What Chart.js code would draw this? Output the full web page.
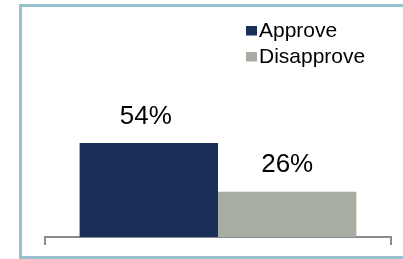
<!DOCTYPE html>
<html>
<head>
<meta charset="utf-8">
<script src="https://cdn.jsdelivr.net/npm/chart.js@4"></script>
<style>
  html, body { margin: 0; padding: 0; background: #fff; overflow: hidden; }
  #wrap { position: relative; width: 403px; height: 259px; }
  #frame { position: absolute; left: 19px; top: 4px; width: 500px; height: 255px; box-sizing: border-box; border: 3px solid #97c1cd; pointer-events: none; }
  canvas { position: absolute; left: 0; top: 0; }
</style>
</head>
<body>
<div id="wrap">
  <canvas id="c" width="403" height="259"></canvas>
  <div id="frame"></div>
</div>
<script>
const categories = [''];
const seriesNames = ['Approve', 'Disapprove'];
const approveValues = [54];
const disapproveValues = [26];
const seriesColors = ['#1a2f57', '#a8ada3'];

const FONT = "'Liberation Sans', Arial, sans-serif";

const overlayPlugin = {
  id: 'overlay',
  afterDatasetsDraw(chart) {
    const ctx = chart.ctx;
    ctx.save();
    // value labels
    ctx.font = '26px ' + FONT;
    ctx.fillStyle = '#000';
    ctx.textAlign = 'center';
    ctx.textBaseline = 'alphabetic';
    chart.data.datasets.forEach((ds, i) => {
      const meta = chart.getDatasetMeta(i);
      meta.data.forEach((bar, j) => {
        ctx.fillText(ds.data[j] + '%', bar.x - (i === 0 ? 3 : 0), bar.y - 19.5);
      });
    });
    // legend
    ctx.font = '21px ' + FONT;
    ctx.textAlign = 'left';
    chart.data.datasets.forEach((ds, i) => {
      const y0 = 26 + i * 26;
      ctx.fillStyle = ds.backgroundColor;
      ctx.fillRect(246, y0, 11, 9.5);
      ctx.fillStyle = '#000';
      ctx.fillText(ds.label, 259, y0 + 10.5);
    });
    ctx.restore();
  }
};

new Chart(document.getElementById('c'), {
  type: 'bar',
  data: {
    labels: categories,
    datasets: [
      { label: seriesNames[0], data: approveValues, backgroundColor: seriesColors[0] },
      { label: seriesNames[1], data: disapproveValues, backgroundColor: seriesColors[1] }
    ]
  },
  options: {
    responsive: false,
    animation: false,
    devicePixelRatio: 1,
    layout: { padding: { left: 45, right: 12, top: 63, bottom: 14 } },
    datasets: { bar: { categoryPercentage: 0.8, barPercentage: 1.0 } },
    plugins: { legend: { display: false }, tooltip: { enabled: false } },
    scales: {
      x: {
        grid: { drawOnChartArea: false, drawTicks: true, tickLength: 8, color: '#8c8c8c', lineWidth: 2 },
        border: { display: true, color: '#8c8c8c', width: 2 },
        ticks: { display: false }
      },
      y: { display: false, min: 0, max: 100 }
    }
  },
  plugins: [overlayPlugin]
});
</script>
</body>
</html>
